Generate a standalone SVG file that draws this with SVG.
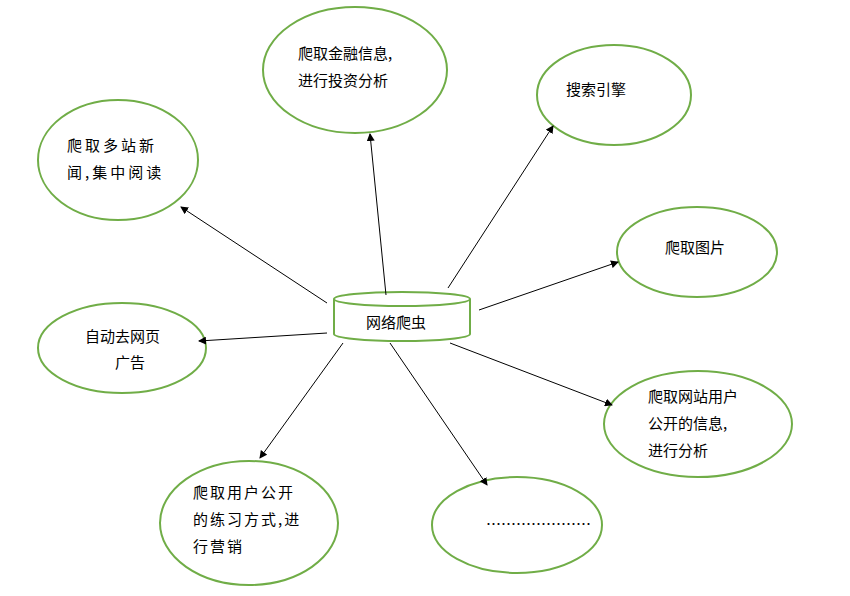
<svg xmlns="http://www.w3.org/2000/svg" width="850" height="596" viewBox="0 0 850 596">
<style>
.n{fill:#fff;stroke:#70ad47;stroke-width:2}
text{font-family:"Noto Sans CJK SC","Liberation Sans",sans-serif;font-size:15px;fill:#000}
.c line{stroke:#000;stroke-width:1;marker-end:url(#a)}
</style>
<defs><marker id="a" markerWidth="8" markerHeight="8" refX="7" refY="4" orient="auto" markerUnits="userSpaceOnUse"><path d="M0,0L8,4L0,8z" fill="#000"/></marker></defs>
<rect width="850" height="596" fill="#fff"/>
<g id="n1"><ellipse class="n" cx="355" cy="70" rx="92" ry="63"/><text x="298" y="59">爬取金融信息,</text><text x="298" y="86">进行投资分析</text></g>
<g id="n2"><ellipse class="n" cx="614" cy="95" rx="77" ry="50"/><text x="566" y="95">搜索引擎</text></g>
<g id="n3"><ellipse class="n" cx="118" cy="160" rx="80" ry="60"/><text x="67" y="151" letter-spacing="3">爬取多站新</text><text x="67" y="178" letter-spacing="3">闻,集中阅读</text></g>
<g id="n4"><ellipse class="n" cx="697" cy="252" rx="80" ry="45"/><text x="665" y="253">爬取图片</text></g>
<g id="n5"><ellipse class="n" cx="122" cy="348" rx="84" ry="45"/><text x="85" y="342">自动去网页</text><text x="115" y="368">广告</text></g>
<g id="n6"><ellipse class="n" cx="698" cy="424" rx="94" ry="53"/><text x="648" y="402">爬取网站用户</text><text x="648" y="429">公开的信息,</text><text x="648" y="456">进行分析</text></g>
<g id="n7"><ellipse class="n" cx="249" cy="523" rx="89" ry="62"/><text x="193" y="498" letter-spacing="2">爬取用户公开</text><text x="193" y="525" letter-spacing="2">的练习方式,进</text><text x="193" y="552" letter-spacing="2">行营销</text></g>
<g id="n8"><ellipse class="n" cx="517" cy="525" rx="85" ry="48"/><text x="486" y="530" font-size="12">…………………</text></g>
<g id="center"><path class="n" d="M334,299V334A68,7 0 0 0 470,334V299"/><ellipse class="n" cx="402" cy="299" rx="68" ry="7"/><text x="366" y="328">网络爬虫</text></g>
<g class="c" id="connectors">
<line x1="386" y1="295" x2="370" y2="134"/>
<line x1="448" y1="288" x2="553" y2="126"/>
<line x1="327" y1="303" x2="181" y2="207"/>
<line x1="479" y1="310" x2="618" y2="262"/>
<line x1="327" y1="333" x2="199" y2="341"/>
<line x1="450" y1="343" x2="612" y2="405"/>
<line x1="343" y1="343" x2="260" y2="458"/>
<line x1="390" y1="343" x2="487" y2="485"/>
</g>
</svg>
